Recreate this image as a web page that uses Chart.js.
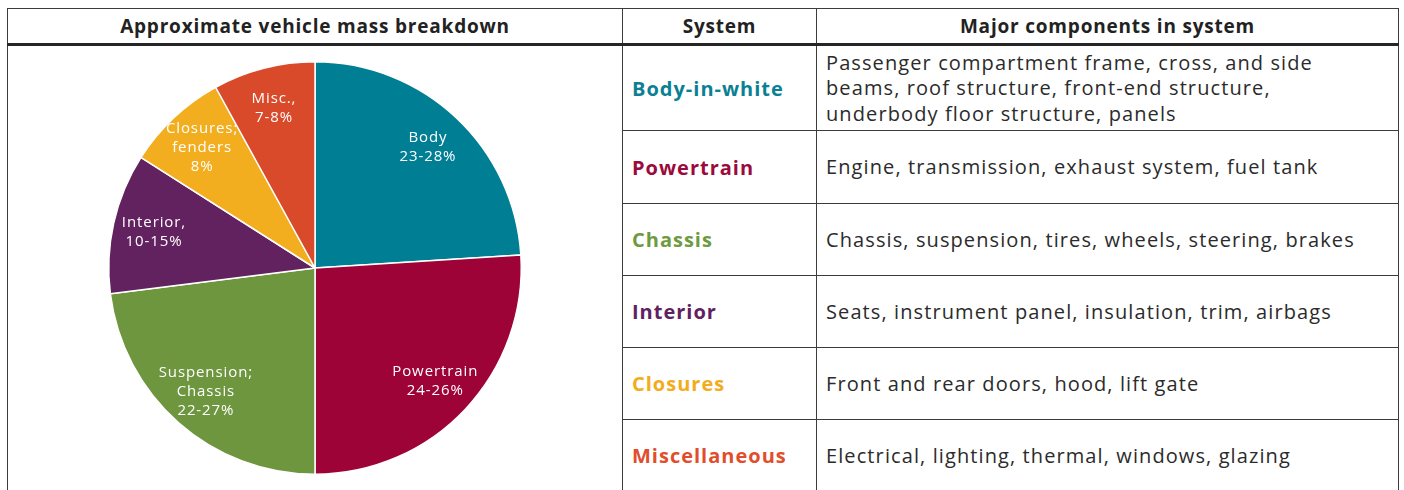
<!DOCTYPE html>
<html>
<head>
<meta charset="utf-8">
<title>Approximate vehicle mass breakdown</title>
<script src="https://cdn.jsdelivr.net/npm/chart.js@4.4.0/dist/chart.umd.min.js"></script>
<style>
  body { margin: 0; background: #fff; font-family: "Open Sans", sans-serif; color: #2b2b2b; }
  #wrap { position: relative; width: 1404px; height: 490px; overflow: hidden; }
  table { position: absolute; left: 7px; top: 8px; border-collapse: collapse; table-layout: fixed; }
  th, td { border: 1.5px solid #3c3c3c; padding: 0 9px; }
  th { height: 34px; font-size: 19px; letter-spacing: 0.8px; font-weight: 700; color: #222; border-bottom: 3px solid #262626; text-align: center; }
  td.sys { font-size: 20px; letter-spacing: 1px; font-weight: 700; }
  td.comp { font-size: 20px; letter-spacing: 1.1px; line-height: 25.5px; white-space: nowrap; }
  #pie { position: absolute; left: 105px; top: 58px; }
</style>
</head>
<body>
<div id="wrap">
  <table id="tbl">
    <colgroup><col style="width:615px"><col style="width:194px"><col style="width:582px"></colgroup>
    <thead>
      <tr><th>Approximate vehicle mass breakdown</th><th>System</th><th>Major components in system</th></tr>
    </thead>
    <tbody id="rows"></tbody>
  </table>
  <canvas id="pie" width="420" height="420"></canvas>
</div>
<script>
// pie slices, clockwise from 12 o'clock
const sliceNames = ["Body", "Powertrain", "Suspension; Chassis", "Interior", "Closures; fenders", "Misc."];
const sliceValues = [24, 26, 23, 11, 8, 8];
const sliceLabelLines = [
  ["Body", "23-28%"],
  ["Powertrain", "24-26%"],
  ["Suspension;", "Chassis", "22-27%"],
  ["Interior,", "10-15%"],
  ["Closures;", "fenders", "8%"],
  ["Misc.,", "7-8%"]
];
const sliceColors = ["#007f94", "#9e0338", "#6d963f", "#622260", "#f2ae1f", "#d84a29"];

// table rows
const systems = ["Body-in-white", "Powertrain", "Chassis", "Interior", "Closures", "Miscellaneous"];
const systemColors = ["#0b8094", "#9b0a3c", "#6e9a40", "#5f2161", "#f2ac1c", "#e04e2b"];
const components = [
  "Passenger compartment frame, cross, and side<br>beams, roof structure, front-end structure,<br>underbody floor structure, panels",
  "Engine, transmission, exhaust system, fuel tank",
  "Chassis, suspension, tires, wheels, steering, brakes",
  "Seats, instrument panel, insulation, trim, airbags",
  "Front and rear doors, hood, lift gate",
  "Electrical, lighting, thermal, windows, glazing"
];
const rowHeights = [86, 73, 72, 72, 72, 72];

const tbody = document.getElementById("rows");
let html = "";
systems.forEach((s, i) => {
  html += `<tr style="height:${rowHeights[i]}px">`;
  if (i === 0) html += `<td rowspan="${systems.length}"></td>`;
  html += `<td class="sys" style="color:${systemColors[i]}">${s}</td>`;
  html += `<td class="comp">${components[i]}</td></tr>`;
});
tbody.innerHTML = html;

const sliceLabels = {
  id: "sliceLabels",
  afterDatasetsDraw(chart) {
    const ctx = chart.ctx;
    const meta = chart.getDatasetMeta(0);
    ctx.save();
    ctx.fillStyle = "#fff";
    ctx.font = '15px "Open Sans"';
    ctx.letterSpacing = "0.9px";
    ctx.textAlign = "center";
    ctx.textBaseline = "middle";
    meta.data.forEach((arc, i) => {
      const p = arc.getProps(["x", "y", "startAngle", "endAngle", "outerRadius"]);
      const mid = (p.startAngle + p.endAngle) / 2;
      const r = p.outerRadius * 0.8;
      const x = p.x + Math.cos(mid) * r;
      const y = p.y + Math.sin(mid) * r;
      const lines = sliceLabelLines[i];
      lines.forEach((line, j) => {
        ctx.fillText(line, x, y + (j - (lines.length - 1) / 2) * 19);
      });
    });
    ctx.restore();
  }
};

new Chart(document.getElementById("pie").getContext("2d"), {
  type: "pie",
  data: {
    labels: sliceNames,
    datasets: [{
      data: sliceValues,
      backgroundColor: sliceColors,
      borderColor: "#fff",
      borderWidth: 1.5
    }]
  },
  options: {
    responsive: false,
    animation: false,
    layout: { padding: 3 },
    plugins: {
      legend: { display: false },
      tooltip: { enabled: false }
    }
  },
  plugins: [sliceLabels]
});
</script>
</body>
</html>
